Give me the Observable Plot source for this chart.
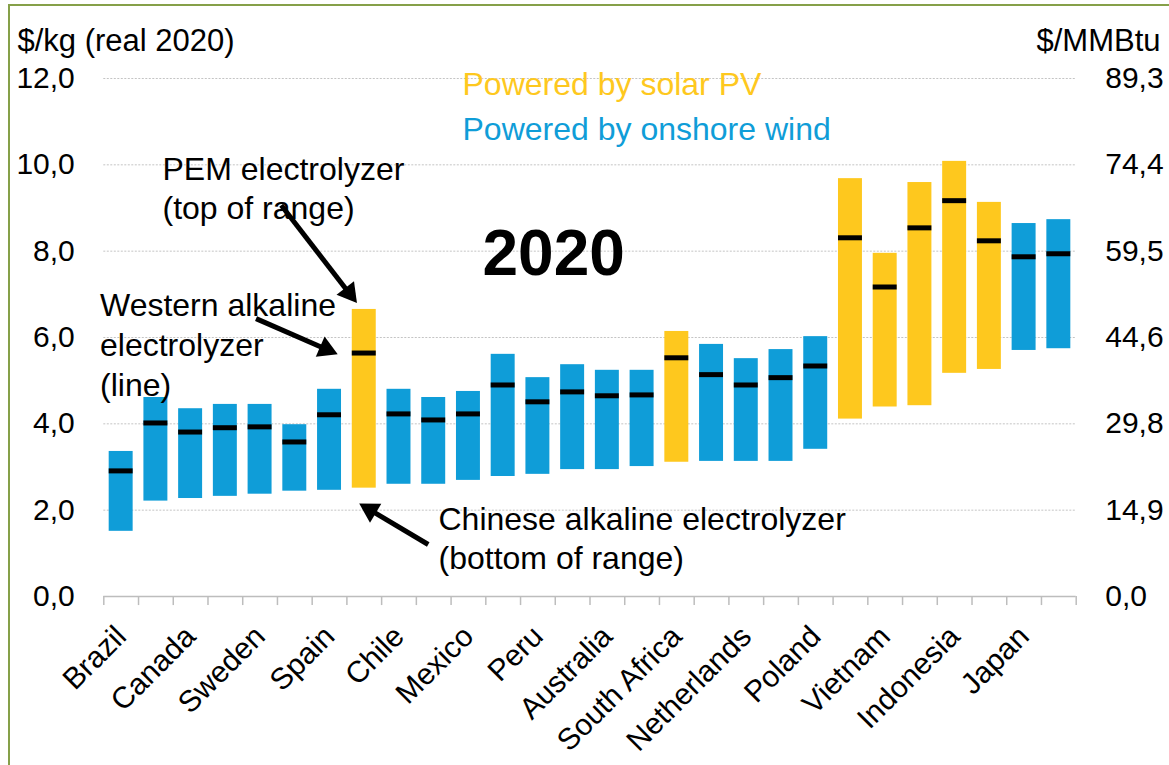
<!DOCTYPE html>
<html>
<head>
<meta charset="utf-8">
<script src="https://cdn.jsdelivr.net/npm/d3@7"></script>
<script src="https://cdn.jsdelivr.net/npm/@observablehq/plot@0.6"></script>
<style>
  html, body { margin: 0; padding: 0; background: #fff; }
  #wrap { position: relative; width: 1169px; height: 765px; overflow: hidden; }
  #bl { position: absolute; left: 8px; top: 5px; width: 1.5px; height: 760px; background: #86a049; }
  #bt { position: absolute; left: 8px; top: 4px; width: 1161px; height: 1.5px; background: #86a049; }
</style>
</head>
<body>
<div id="wrap"><div id="chart"></div><div id="bl"></div><div id="bt"></div></div>
<script>
// ---- Data ----
const tickLabels = ["Brazil", "", "Canada", "", "Sweden", "", "Spain", "", "Chile", "", "Mexico", "",
  "Peru", "", "Australia", "", "South Africa", "", "Netherlands", "", "Poland", "", "Vietnam", "",
  "Indonesia", "", "Japan", ""];
const source = ["wind","wind","wind","wind","wind","wind","wind","solar","wind","wind","wind","wind",
  "wind","wind","wind","wind","solar","wind","wind","wind","wind","solar","solar","solar",
  "solar","solar","wind","wind"];
// Chinese alkaline electrolyzer (bottom of range), $/kg
const chineseLow = [1.51, 2.21, 2.27, 2.32, 2.37, 2.44, 2.46, 2.51, 2.60, 2.60, 2.69, 2.78, 2.83, 2.94,
  2.94, 3.01, 3.11, 3.13, 3.13, 3.13, 3.41, 4.11, 4.39, 4.42, 5.17, 5.26, 5.70, 5.74];
// PEM electrolyzer (top of range), $/kg
const pemHigh = [3.36, 4.61, 4.35, 4.45, 4.45, 3.98, 4.80, 6.65, 4.80, 4.61, 4.75, 5.61, 5.07, 5.37,
  5.24, 5.24, 6.14, 5.84, 5.51, 5.72, 6.02, 9.68, 7.95, 9.59, 10.08, 9.13, 8.64, 8.73];
// Western alkaline electrolyzer (line), $/kg
const westernLine = [2.91, 4.02, 3.81, 3.91, 3.93, 3.58, 4.21, 5.64, 4.23, 4.09, 4.23, 4.90, 4.51, 4.74,
  4.65, 4.67, 5.53, 5.14, 4.90, 5.07, 5.34, 8.31, 7.17, 8.54, 9.17, 8.24, 7.87, 7.94];
const yTicks = [0, 2, 4, 6, 8, 10, 12];
const kgToMMBtu = 7.44; // $/kg -> $/MMBtu

const rows = tickLabels.map((label, i) => ({
  id: i, label, source: source[i], low: chineseLow[i], high: pemHigh[i], mid: westernLine[i]
}));
const ids = rows.map(d => d.id);

const W = 1169, H = 765;
const mL = 103.3, mR = 93.3, mT = 78, mB = 169;
const step = (W - mL - mR) / ids.length;
const BLUE = "#0f9dd8", YELLOW = "#fec81e";
const FONT = "'Liberation Sans', Arial, Helvetica, sans-serif";
const fmt = v => v.toFixed(1).replace(".", ",");
const shaft = {x1: "x1", y1: "y1", x2: "x2", y2: "y2", stroke: "#000", strokeWidth: 5,
  headLength: 0, insetEnd: 15, strokeLinecap: "butt"};
const head = {x: "x2", y: "y2", symbol: "triangle", fill: "#000", stroke: "none", r: 8.2};

const chart = Plot.plot({
  width: W, height: H,
  marginLeft: mL, marginRight: mR, marginTop: mT, marginBottom: mB,
  style: {fontFamily: FONT, fontSize: "30px", color: "#000", background: "#fff", overflow: "visible"},
  x: {type: "band", domain: ids, paddingInner: 0.31, paddingOuter: 0.155, round: false, axis: null},
  y: {domain: [0, 12], axis: null},
  color: {domain: ["solar", "wind"], range: [YELLOW, BLUE]},
  marks: [
    // gridlines
    Plot.ruleY(yTicks.filter(d => d > 0), {stroke: "#c4c4c4", strokeWidth: 1, strokeDasharray: "2,1.5"}),
    // x axis baseline + ticks between categories
    Plot.ruleY([0], {stroke: "#bdbdbd", strokeWidth: 1.5}),
    Plot.ruleX(ids, {x: d => d, y1: () => 0, y2: () => -0.21, dx: -step / 2, stroke: "#bdbdbd", strokeWidth: 1.5}),
    Plot.ruleX(ids.slice(-1), {x: d => d, y1: () => 0, y2: () => -0.21, dx: step / 2, stroke: "#bdbdbd", strokeWidth: 1.5}),
    // range bars
    Plot.barY(rows, {x: "id", y1: "low", y2: "high", fill: "source"}),
    // western alkaline lines
    Plot.tickY(rows, {x: "id", y: "mid", stroke: "#000", strokeWidth: 5}),
    // left y tick labels
    Plot.text(yTicks, {y: d => d, frameAnchor: "left", textAnchor: "end", dx: -29, text: d => fmt(d), fontSize: 30}),
    // right y tick labels ($/MMBtu)
    Plot.text(yTicks, {y: d => d, frameAnchor: "right", textAnchor: "start", dx: 29, text: d => fmt(d * kgToMMBtu), fontSize: 30}),
    // x tick labels
    Plot.text(rows.filter(d => d.label), {x: "id", frameAnchor: "bottom", dy: 35, rotate: -45,
      textAnchor: "end", lineAnchor: "middle", text: "label", fontSize: 30}),
    // axis titles
    Plot.text(["$/kg (real 2020)"], {text: d => d, frameAnchor: "top-left", textAnchor: "start", lineAnchor: "top",
      dx: 17 - mL, dy: 28 - mT, fontSize: 31}),
    Plot.text(["$/MMBtu"], {text: d => d, frameAnchor: "top-right", textAnchor: "end", lineAnchor: "top",
      dx: 1160 - (W - mR), dy: 28 - mT, fontSize: 31}),
    // legend texts
    Plot.text(["Powered by solar PV"], {text: d => d, frameAnchor: "top-left", textAnchor: "start", lineAnchor: "top",
      dx: 462 - mL, dy: 72 - mT, fontSize: 32, fill: YELLOW}),
    Plot.text(["Powered by onshore wind"], {text: d => d, frameAnchor: "top-left", textAnchor: "start", lineAnchor: "top",
      dx: 462 - mL, dy: 117 - mT, fontSize: 32, fill: BLUE}),
    // big year
    Plot.text(["2020"], {text: d => d, frameAnchor: "top-left", textAnchor: "start", lineAnchor: "top",
      dx: 482 - mL, dy: 229 - mT, fontSize: 64, fontWeight: "bold"}),
    // annotations
    Plot.text(["PEM electrolyzer\n(top of range)"], {text: d => d, frameAnchor: "top-left", textAnchor: "start",
      lineAnchor: "top", lineHeight: 1.22, dx: 162 - mL, dy: 152 - mT, fontSize: 32}),
    Plot.text(["Western alkaline\nelectrolyzer\n(line)"], {text: d => d, frameAnchor: "top-left", textAnchor: "start",
      lineAnchor: "top", lineHeight: 1.25, dx: 99.5 - mL, dy: 287 - mT, fontSize: 32}),
    Plot.text(["Chinese alkaline electrolyzer\n(bottom of range)"], {text: d => d, frameAnchor: "top-left", textAnchor: "start",
      lineAnchor: "top", lineHeight: 1.22, dx: 438 - mL, dy: 502 - mT, fontSize: 32}),
    // arrows: shafts anchored on category bands / value axis, with filled triangular heads
    Plot.arrow([{x1: 4, y1: 9.905, x2: 7, y2: 6.787}], {...shaft, dx: -7, insetStart: 46}),
    Plot.dot([{x2: 7, y2: 6.787}], {...head, dx: -15.1, dy: -10.5, rotate: 142.3}),
    Plot.arrow([{x1: 3, y1: 6.66, x2: 6, y2: 5.606}], {...shaft, dx: 8.7, insetStart: 24}),
    Plot.dot([{x2: 6, y2: 5.606}], {...head, dx: -3.5, dy: -5.3, rotate: 113.6}),
    Plot.arrow([{x1: 9, y1: 1.205, x2: 7, y2: 2.161}], {...shaft, dx: -5.5}),
    Plot.dot([{x2: 7, y2: 2.161}], {...head, dx: 5.9, dy: 6.8, rotate: -59.3})
  ]
});
document.getElementById("chart").appendChild(chart);
</script>
</body>
</html>
